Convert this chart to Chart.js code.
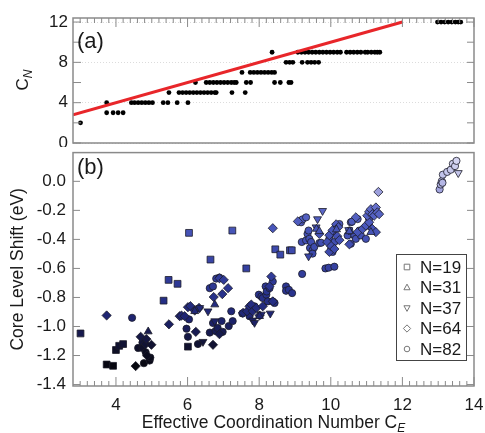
<!DOCTYPE html>
<html>
<head>
<meta charset="utf-8">
<script src="https://cdn.jsdelivr.net/npm/chart.js@4.4.0/dist/chart.umd.min.js"></script>
<style>
  body { margin:0; background:#fff; }
  #wrap { position:relative; width:485px; height:433px; }
  canvas { position:absolute; left:0; }
</style>
</head>
<body>
<div id="wrap">
  <canvas id="ca" width="485" height="147" style="top:0"></canvas>
  <canvas id="cb" width="485" height="286" style="top:147px"></canvas>
</div>
<script>
/* ---------- panel (a): C_N against C_E, one array per C_N level ---------- */
const ceAt2  = [3.01];
const ceAt3  = [3.74, 3.92, 4.06, 4.20];
const ceAt4  = [3.74, 4.43, 4.52, 4.62, 4.72, 4.82, 4.92, 5.02, 5.32, 5.45, 5.71, 6.01];
const ceAt5  = [5.48, 5.76, 5.86, 5.96, 6.06, 6.16, 6.26, 6.36, 6.46, 6.56, 6.66, 6.76, 6.80, 7.24, 7.61];
const ceAt6  = [6.22, 6.52, 6.62, 6.72, 6.82, 6.92, 7.02, 7.12, 7.22, 7.30, 7.36, 7.64, 7.76, 8.43, 8.59, 8.83, 8.89];
const ceAt7  = [7.52, 7.75, 7.85, 7.95, 8.05, 8.15, 8.25, 8.35, 8.43];
const ceAt8  = [8.75, 8.85, 8.94, 9.20, 9.35, 9.45, 9.55, 9.66];
const ceAt9  = [8.36, 9.08, 9.18, 9.28, 9.38, 9.48, 9.58, 9.68, 9.78, 9.88, 9.98, 10.08, 10.18, 10.27,
                10.44, 10.54, 10.64, 10.74, 10.84, 10.96, 11.03, 11.13, 11.23, 11.30, 11.37];
const ceAt12 = [12.98, 13.08, 13.18, 13.28, 13.38, 13.48, 13.56, 13.63];
const cnLevels = [2, 3, 4, 5, 6, 7, 8, 9, 12];
const cnRows   = [ceAt2, ceAt3, ceAt4, ceAt5, ceAt6, ceAt7, ceAt8, ceAt9, ceAt12];
const fitX = [2.8, 12];   // red line C_N = C_E
const fitY = [2.8, 12];

/* ---------- panel (b): core level shift, one pair of arrays per cluster size ---------- */
const n19X = [3.01, 3.74, 3.92, 4.00, 4.09, 4.20, 5.33, 5.47, 5.72, 6.04, 6.01, 6.64, 7.25, 7.64, 8.45, 8.59, 8.86, 8.91];
const n19Y = [-1.048, -1.262, -1.271, -1.162, -1.133, -1.121, -0.822, -0.679, -0.706, -0.355, -1.139, -0.539, -0.339, -0.600, -0.468, -0.505, -0.475, -0.475];

const n31X = [4.90, 6.20, 6.76, 8.01, 9.60, 9.68, 10.16, 10.52, 11.12];
const n31Y = [-1.035, -0.895, -0.849, -0.929, -0.328, -0.344, -0.332, -0.345, -0.350];

const n37X = [6.34, 6.57, 6.76, 6.43, 7.82, 7.87, 8.06, 8.31, 9.38, 9.59, 9.63, 9.77, 10.50, 13.56];
const n37Y = [-0.872, -0.895, -0.963, -1.105, -0.958, -0.974, -0.917, -0.910, -0.516, -0.316, -0.260, -0.203, -0.335, 0.058];

const n64X = [3.74, 4.55, 4.69, 4.83, 4.85, 4.87, 4.99, 5.48, 5.78, 5.83, 5.92, 6.01, 6.08, 6.20, 6.32, 6.23,
              6.71, 6.73, 6.89, 6.97, 7.01, 7.13, 6.89, 7.55, 7.66, 7.73, 7.78, 7.82, 7.92, 8.01, 8.10, 8.29,
              8.34, 8.38, 8.38, 9.08, 9.68, 9.90, 9.96, 9.96, 10.01, 10.05, 10.10, 10.15, 10.18, 10.21, 10.24,
              10.52, 10.70, 10.75, 10.89, 10.98, 11.07, 11.16, 11.26, 11.02, 11.07, 11.12, 11.16, 11.21, 11.26,
              11.30, 11.35, 11.33];
const n64Y = [-0.924, -1.273, -1.071, -1.121, -1.087, -1.201, -1.126, -0.985, -0.929, -0.925, -0.929, -0.867, -0.860, -0.890, -0.872, -1.037,
              -1.126, -0.797, -0.668, -0.777, -0.679, -0.736, -1.053, -0.906, -0.895, -0.861, -0.849, -0.895, -0.872, -0.924, -0.861, -0.724,
              -0.656, -0.827, -0.323, -0.276, -0.362, -0.418, -0.371, -0.486, -0.446, -0.337, -0.466, -0.296, -0.378, -0.316, -0.405,
              -0.434, -0.248, -0.350, -0.328, -0.305, -0.282, -0.328, -0.350, -0.237, -0.210, -0.192, -0.226, -0.237, -0.180,
              -0.214, -0.226, -0.073];

const n82X = [4.45, 4.62, 4.74, 4.74, 4.78, 4.83, 4.94, 4.96, 5.97, 6.01, 6.04, 6.29, 6.62, 6.71, 6.80, 6.89,
              6.62, 6.71, 6.78, 6.84, 6.95, 6.98, 7.15, 7.22, 7.26, 7.53, 7.73, 7.87, 7.99, 8.06, 8.10, 8.18,
              8.20, 8.21, 8.24, 8.29, 8.38, 8.38, 8.43, 8.75, 8.75, 8.83, 8.92, 9.20, 9.85, 9.94, 10.10,
              9.17, 9.21, 9.31, 9.19, 9.31, 9.35, 9.38, 9.40, 9.42, 9.45, 9.49, 9.49, 9.54, 9.68, 9.73,
              9.96, 10.01, 10.05, 10.05, 10.10, 10.15, 10.24, 10.47, 10.52, 10.56, 10.56, 10.59, 10.66, 10.70,
              10.75, 10.80, 10.84, 10.98, 11.07, 11.07,
              13.04, 13.07, 13.10, 13.12, 13.13, 13.25, 13.35, 13.41, 13.47, 13.51];
const n82Y = [-0.940, -1.148, -1.110, -1.148, -1.253, -1.178, -1.235, -1.214, -1.015, -1.071, -0.951, -1.121, -0.736, -0.724, -0.670, -0.663,
              -1.042, -0.976, -1.031, -1.010, -0.963, -1.037, -0.997, -0.895, -0.963, -0.910, -0.929, -0.861, -0.781, -0.793, -0.804, -0.724,
              -0.781, -0.759, -0.827, -0.736, -0.690, -0.827, -0.838, -0.724, -0.754, -0.747, -0.770, -0.638, -0.600, -0.595, -0.588,
              -0.282, -0.262, -0.248, -0.418, -0.407, -0.362, -0.339, -0.396, -0.459, -0.418, -0.475, -0.498, -0.452, -0.425, -0.423,
              -0.396, -0.464, -0.350, -0.486, -0.418, -0.305, -0.294, -0.373, -0.339, -0.282, -0.430, -0.278, -0.373, -0.396,
              -0.260, -0.339, -0.373, -0.396, -0.260, -0.305,
              -0.056, -0.022, 0.001, -0.010, 0.046, 0.065, 0.080, 0.121, 0.105, 0.141];

const sizeLabels = ['N=19', 'N=31', 'N=37', 'N=64', 'N=82'];

/* ---------- styles ---------- */
const FONT = "'Liberation Sans', Arial, sans-serif";
Chart.defaults.font.family = FONT;
Chart.defaults.font.size = 17;
Chart.defaults.color = '#1a1a1a';
Chart.defaults.animation = false;
Chart.defaults.plugins.legend.display = false;
Chart.defaults.plugins.tooltip.enabled = false;

const FRAME = '#8a8a8a';
const pairs = (xs, ys) => xs.map((x, i) => ({ x, y: ys[i] }));

// fill colour follows the shift value: black (most negative) -> navy -> blue -> pale lavender
const ramp = [[-1.28,[6,6,14]],[-1.16,[14,15,38]],[-1.06,[22,25,74]],[-0.94,[30,36,112]],[-0.78,[40,50,140]],
              [-0.55,[56,68,165]],[-0.32,[72,86,186]],[-0.2,[90,102,198]],[-0.09,[150,153,218]],[0.0,[184,186,230]],[0.15,[214,214,242]]];
function shade(v) {
  if (v <= ramp[0][0]) return `rgb(${ramp[0][1]})`;
  for (let i = 1; i < ramp.length; i++) {
    if (v <= ramp[i][0]) {
      const [a, ca] = ramp[i-1], [b, cb] = ramp[i], t = (v - a) / (b - a);
      return `rgb(${ca.map((c, k) => Math.round(c + (cb[k] - c) * t)).join(',')})`;
    }
  }
  return `rgb(${ramp[ramp.length-1][1]})`;
}

// inward tick marks + grey box, all placed through the scales
function frameTicks(ctx, a, x, y, o) {
  ctx.save();
  ctx.strokeStyle = FRAME;
  ctx.lineWidth = 1.5;
  ctx.strokeRect(a.left, a.top, a.right - a.left, a.bottom - a.top);
  ctx.lineWidth = 1;
  const top = o.xSide === 'top', ey = top ? a.top : a.bottom, d = top ? 1 : -1;
  for (let i = 0; ; i++) {
    const v = 3 + i * 0.2;
    if (v > x.max + 1e-6) break;
    const px = x.getPixelForValue(v), major = Math.abs(v / 2 - Math.round(v / 2)) < 1e-6;
    ctx.beginPath(); ctx.moveTo(px, ey); ctx.lineTo(px, ey + d * (major ? 9 : 5)); ctx.stroke();
  }
  for (let i = 0; ; i++) {
    const v = o.yFrom + i * o.yStep;
    if (v > y.max + 1e-6) break;
    const py = y.getPixelForValue(v);
    ctx.beginPath();
    ctx.moveTo(a.left - o.yOut, py); ctx.lineTo(a.left + o.yIn, py);
    ctx.moveTo(a.right, py); ctx.lineTo(a.right - 7, py);
    ctx.stroke();
  }
  ctx.restore();
}

// text with an italic subscript, centred on (cx, baseline) after rotation
function subText(ctx, main, sub, cx, cy, size, rot) {
  ctx.save();
  ctx.translate(cx, cy);
  if (rot) ctx.rotate(rot);
  ctx.fillStyle = '#1a1a1a';
  ctx.textBaseline = 'alphabetic';
  ctx.font = `${size}px ${FONT}`;
  const w1 = ctx.measureText(main).width;
  ctx.font = `italic ${Math.round(size * 0.7)}px ${FONT}`;
  const w2 = ctx.measureText(sub).width;
  let x0 = -(w1 + w2) / 2;
  ctx.font = `${size}px ${FONT}`;
  ctx.textAlign = 'left';
  ctx.fillText(main, x0, 0);
  ctx.font = `italic ${Math.round(size * 0.7)}px ${FONT}`;
  ctx.fillText(sub, x0 + w1, 4);
  ctx.restore();
}

function marker(ctx, style, cx, cy, r) {
  ctx.beginPath();
  if (style === 'circle') ctx.arc(cx, cy, r, 0, Math.PI * 2);
  else if (style === 'rect') ctx.rect(cx - r, cy - r, 2 * r, 2 * r);
  else if (style === 'diamond') { ctx.moveTo(cx, cy - r * 1.3); ctx.lineTo(cx + r * 1.3, cy); ctx.lineTo(cx, cy + r * 1.3); ctx.lineTo(cx - r * 1.3, cy); ctx.closePath(); }
  else if (style === 'up') { ctx.moveTo(cx, cy - r * 1.2); ctx.lineTo(cx + r * 1.1, cy + r * 0.8); ctx.lineTo(cx - r * 1.1, cy + r * 0.8); ctx.closePath(); }
  else { ctx.moveTo(cx, cy + r * 1.2); ctx.lineTo(cx + r * 1.1, cy - r * 0.8); ctx.lineTo(cx - r * 1.1, cy - r * 0.8); ctx.closePath(); }
  ctx.fill(); ctx.stroke();
}

/* ---------- chart (a) ---------- */
const dotsA = [];
cnRows.forEach((row, k) => row.forEach(x => dotsA.push({ x, y: cnLevels[k] })));

new Chart(document.getElementById('ca'), {
  type: 'scatter',
  data: {
    datasets: [
      { type: 'line', data: pairs(fitX, fitY), borderColor: '#e8262a', borderWidth: 3, pointRadius: 0, order: 0 },
      { data: dotsA, backgroundColor: '#000', borderWidth: 0, pointRadius: 2.4, order: 1 }
    ]
  },
  options: {
    responsive: false,
    layout: { padding: { left: 0, right: 11, top: 18, bottom: 2 } },
    scales: {
      x: { type: 'linear', min: 2.8, max: 14, display: false },
      y: { min: 0, max: 12.4,
           ticks: { stepSize: 4, includeBounds: false, padding: 5 },
           grid: { color: '#dcdcdc', drawTicks: false }, border: { display: false, dash: [1, 2] },
           afterFit(s) { s.width = 73; s.paddingTop = 0; s.paddingBottom = 0; } }
    }
  },
  plugins: [{
    id: 'panelA',
    afterDatasetsDraw(chart) {
      const { ctx, chartArea: a, scales: { x, y } } = chart;
      frameTicks(ctx, a, x, y, { xSide: 'top', yFrom: 0, yStep: 2, yIn: 8, yOut: 0 });
      ctx.save();
      ctx.fillStyle = '#1a1a1a';
      ctx.font = `22px ${FONT}`;
      ctx.fillText('(a)', a.left + 4, 48);
      ctx.restore();
      subText(ctx, 'C', 'N', 28, 80, 17, -Math.PI / 2);
    }
  }]
});

/* ---------- chart (b) ---------- */
const groups = [
  { xs: n19X, ys: n19Y, style: 'rect',     r: 4.8, rot: 0 },
  { xs: n31X, ys: n31Y, style: 'triangle', r: 4.6, rot: 0 },
  { xs: n37X, ys: n37Y, style: 'triangle', r: 4.6, rot: 180 },
  { xs: n64X, ys: n64Y, style: 'rectRot',  r: 4.6, rot: 0 },
  { xs: n82X, ys: n82Y, style: 'circle',   r: 3.6, rot: 0 }
];
const legendStyles = ['rect', 'up', 'down', 'diamond', 'circle'];

new Chart(document.getElementById('cb'), {
  type: 'scatter',
  data: {
    datasets: groups.map((g, i) => ({
      label: sizeLabels[i],
      data: pairs(g.xs, g.ys),
      pointStyle: g.style,
      rotation: g.rot,
      pointRadius: g.r,
      backgroundColor: c => shade(c.raw ? c.raw.y : -0.5),
      borderColor: '#1c1c28',
      borderWidth: 0.8
    }))
  },
  options: {
    responsive: false,
    layout: { padding: { left: 0, right: 11, top: 2, bottom: 0 } },
    scales: {
      x: { type: 'linear', min: 2.8, max: 14,
           ticks: { stepSize: 2, includeBounds: false, padding: 9 },
           grid: { display: false, drawTicks: false }, border: { display: false },
           afterFit(s) { s.height = 47; s.paddingLeft = 0; s.paddingRight = 0; } },
      y: { min: -1.41, max: 0.198,
           ticks: { stepSize: 0.2, includeBounds: false, padding: 7,
                    callback: v => (Math.abs(v) < 1e-9 ? 0 : v).toFixed(1) },
           grid: { display: false, drawTicks: false }, border: { display: false },
           afterFit(s) { s.width = 73; s.paddingTop = 0; s.paddingBottom = 0; } }
    }
  },
  plugins: [{
    id: 'panelB',
    afterDatasetsDraw(chart) {
      const { ctx, chartArea: a, scales: { x, y } } = chart;
      frameTicks(ctx, a, x, y, { xSide: 'bottom', yFrom: -1.4, yStep: 0.2, yIn: 7, yOut: 0 });
      ctx.save();
      ctx.fillStyle = '#1a1a1a';
      ctx.font = `22px ${FONT}`;
      ctx.fillText('(b)', a.left + 4, 27);

      // legend box
      const lx = 396, ly = 107, lw = 70, lh = 106;
      ctx.fillStyle = '#fff';
      ctx.fillRect(lx, ly, lw, lh);
      ctx.strokeStyle = '#444';
      ctx.lineWidth = 1;
      ctx.strokeRect(lx + 0.5, ly + 0.5, lw, lh);
      ctx.font = `17px ${FONT}`;
      ctx.textBaseline = 'middle';
      sizeLabels.forEach((t, i) => {
        const cy = ly + 13 + i * 20.5;
        ctx.fillStyle = '#fff';
        ctx.strokeStyle = '#777';
        marker(ctx, legendStyles[i], lx + 11, cy, 2.8);
        ctx.fillStyle = '#1a1a1a';
        ctx.fillText(t, lx + 24, cy + 1);
      });
      ctx.restore();

      subText(ctx, 'Effective Coordination Number C', 'E', (a.left + a.right) / 2, 281, 17.5, 0);
      ctx.save();
      ctx.translate(23, (a.top + a.bottom) / 2);
      ctx.rotate(-Math.PI / 2);
      ctx.fillStyle = '#1a1a1a';
      ctx.font = `17.5px ${FONT}`;
      ctx.textAlign = 'center';
      ctx.fillText('Core Level Shift (eV)', 0, 0);
      ctx.restore();
    }
  }]
});
</script>
</body>
</html>
